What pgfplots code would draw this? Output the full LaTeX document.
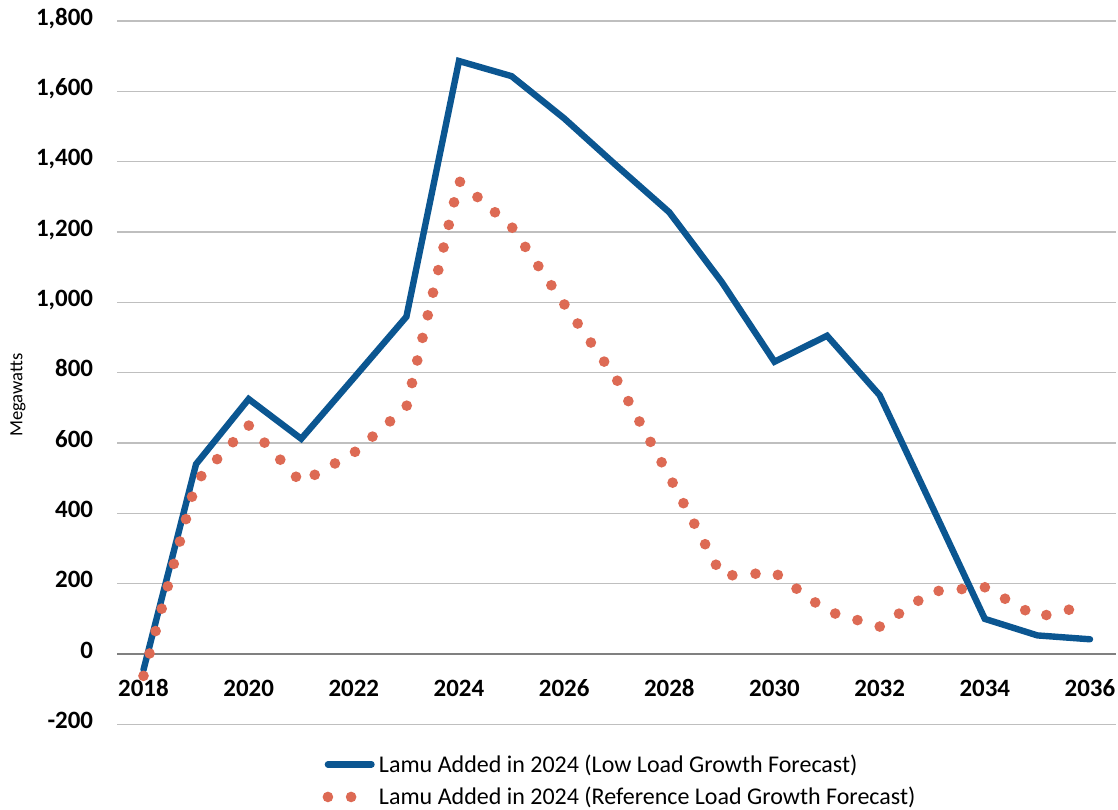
\documentclass[border=0pt]{standalone}
\usepackage{pgfplots}
\pgfplotsset{compat=1.18}
\usepackage{fontspec}
\setmainfont{Carlito}
\definecolor{lowblue}{RGB}{11,86,145}
\definecolor{refor}{RGB}{221,106,84}
\begin{document}
\begin{tikzpicture}
\begin{axis}[name=ax, at={(0,0)}, anchor=south west,
 scale only axis, width=749.3pt, height=527.6pt,
 xmin=2017.5, xmax=2036.5, ymin=-200, ymax=1800,
 axis line style={draw=none}, major tick length=0pt,
 xtick={2018,2020,2022,2024,2026,2028,2030,2032,2034,2036},
 xticklabels={2018,2020,2022,2024,2026,2028,2030,2032,2034,2036},
 ytick={-200,0,200,400,600,800,1000,1200,1400,1600,1800},
 yticklabels={-200,0,200,400,600,800,{1,000},{1,200},{1,400},{1,600},{1,800}},
 ymajorgrids, grid style={color=black!25, line width=0.9pt},
 ticklabel style={font=\fontsize{18.7}{20}\selectfont\bfseries},
 xticklabel style={anchor=base, yshift=20.6pt, inner sep=0pt},
 yticklabel style={anchor=base east, inner sep=0pt, xshift=-17.9pt, yshift=-0.32em},
 ylabel={Megawatts},
 ylabel style={at={(axis description cs:-0.0993,0.4680)}, anchor=center, font=\fontsize{14}{16}\selectfont},
 legend style={draw=none, fill=none, at={(axis description cs:0.2053,-0.0425)}, anchor=north west,
   inner sep=0pt, row sep=9.8pt, column sep=1.6pt, font=\fontsize{18}{21}\selectfont, nodes={inner sep=0pt}},
 legend cell align=left,
 legend image code/.code={\draw[#1] (0pt,0pt) -- (32.7pt,0pt);},
]
\draw[color=black!50, line width=1.1pt] (axis cs:2017.5,0) -- (axis cs:2036.5,0);
\addplot[lowblue, line width=4.8pt, line cap=round] coordinates {
(2018,-45) (2019,540) (2020,725) (2021,612) (2022,785) (2023,959) (2024,1686)
(2025,1643) (2026,1523) (2027,1388) (2028,1256) (2029,1057) (2030,831)
(2031,905) (2032,736) (2033,419) (2034,100) (2035,53) (2036,42)};
\addlegendentry{Lamu Added in 2024 (Low Load Growth Forecast)}
\addplot[refor, line width=8pt, line cap=round, dash pattern=on 0pt off 17.4pt] coordinates {
(2018,-62) (2019,490) (2020,650) (2021,488) (2022,572) (2023,702) (2024,1345)
(2025,1215) (2026,995) (2027,780) (2028,505) (2029,222) (2030,232)
(2031,122) (2032,78) (2033,178) (2034,190) (2035,105) (2036,140)};
\addlegendentry{Lamu Added in 2024 (Reference Load Growth Forecast)}
\end{axis}
\pgfresetboundingbox
\path[use as bounding box] ([shift={(-87.9pt,-64.2pt)}]ax.south west) rectangle ([shift={(750.6pt,543.3pt)}]ax.south west);
\end{tikzpicture}
\end{document}
